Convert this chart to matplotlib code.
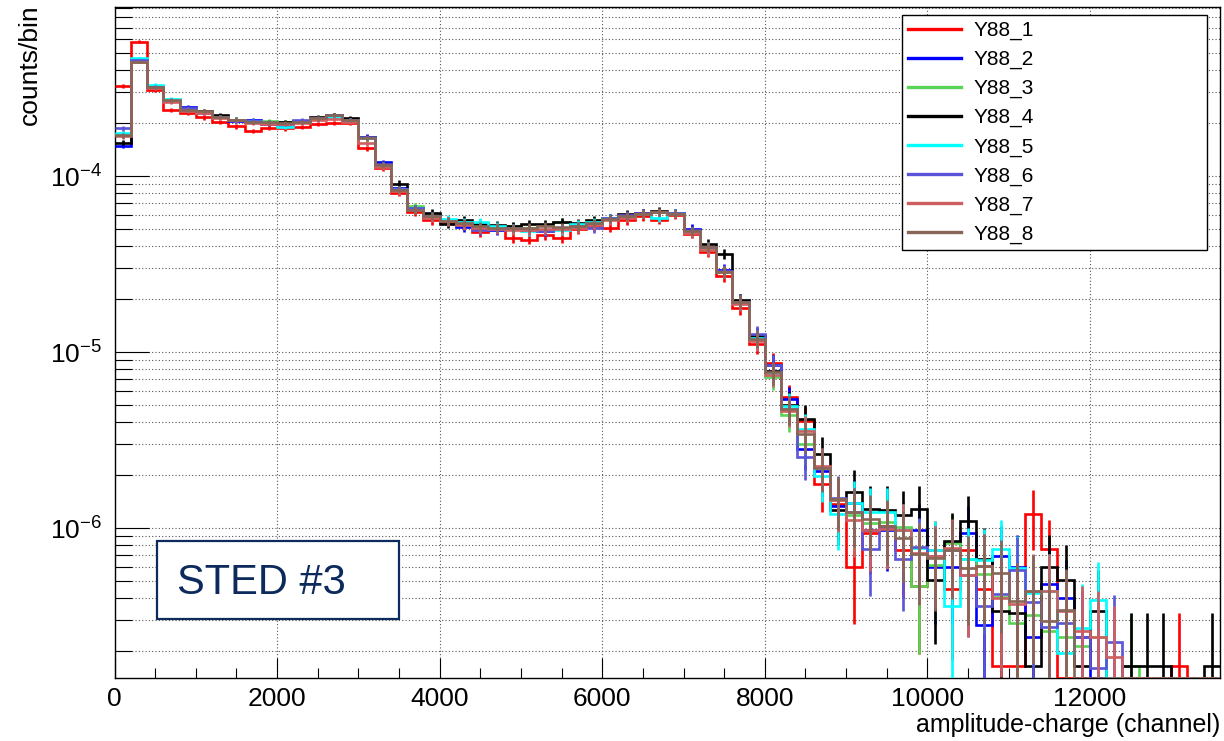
import numpy as np
import matplotlib.pyplot as plt
from matplotlib.lines import Line2D
from matplotlib.patches import Rectangle
from matplotlib.ticker import MultipleLocator, LogLocator, NullFormatter

plt.rcParams['font.family'] = ['Liberation Sans', 'DejaVu Sans']
plt.rcParams['mathtext.fontset'] = 'custom'
plt.rcParams['mathtext.rm'] = 'Liberation Sans'
plt.rcParams['mathtext.it'] = 'Liberation Sans:italic'
plt.rcParams['mathtext.bf'] = 'Liberation Sans:bold'

# histogram binning (channels)
bin_width = 200
n_bins = 68
# normalised content of a single count, used for the Poisson error bars
count_unit = 1.65e-7

# counts/bin for each channel
y88_1 = [3.26e-4, 5.83e-4, 3.09e-4, 2.38e-4, 2.28e-4, 2.16e-4, 2.04e-4, 1.92e-4, 1.81e-4, 1.89e-4,
         1.87e-4, 1.91e-4, 1.98e-4, 2.00e-4, 2.01e-4, 1.44e-4, 1.11e-4, 8.05e-5, 6.26e-5, 5.62e-5,
         5.48e-5, 5.26e-5, 4.82e-5, 4.99e-5, 4.47e-5, 4.36e-5, 4.61e-5, 4.47e-5, 4.99e-5, 5.19e-5,
         5.10e-5, 5.62e-5, 5.91e-5, 5.67e-5, 6.00e-5, 4.71e-5, 3.71e-5, 2.72e-5, 1.79e-5, 1.11e-5,
         8.68e-6, 5.58e-6, 4.07e-6, 1.78e-6, 1.37e-6, 6.0e-7, 9.4e-7, 1.03e-6, 7.5e-7, 4.7e-7,
         7.5e-7, 4.5e-7, 7.5e-7, 4.5e-7, 1.65e-7, 1.65e-7, 1.2e-6, 7.6e-7, 0, 0,
         0, 0, 0, 0, 0, 1.65e-7, 0, 0]
y88_2 = [1.49e-4, 4.55e-4, 3.21e-4, 2.68e-4, 2.48e-4, 2.31e-4, 2.17e-4, 2.06e-4, 2.08e-4, 1.98e-4,
         1.93e-4, 2.06e-4, 2.14e-4, 2.23e-4, 2.085e-4, 1.675e-4, 1.20e-4, 8.54e-5, 6.57e-5, 5.92e-5,
         5.61e-5, 5.14e-5, 5.06e-5, 4.93e-5, 5.07e-5, 5.00e-5, 4.86e-5, 5.07e-5, 5.19e-5, 5.33e-5,
         5.76e-5, 5.99e-5, 6.15e-5, 6.23e-5, 6.15e-5, 5.04e-5, 3.95e-5, 2.94e-5, 1.96e-5, 1.23e-5,
         8.4e-6, 5.42e-6, 2.81e-6, 2.12e-6, 1.33e-6, 1.39e-6, 9.7e-7, 9.7e-7, 9.7e-7, 9.7e-7,
         6.0e-7, 6.0e-7, 9.4e-7, 2.8e-7, 6.9e-7, 6.0e-7, 2.4e-7, 4.8e-7, 4.0e-7, 2.4e-7,
         0, 0, 0, 0, 0, 0, 0, 0]
y88_3 = [1.74e-4, 4.55e-4, 3.21e-4, 2.71e-4, 2.38e-4, 2.31e-4, 2.17e-4, 2.08e-4, 2.03e-4, 2.06e-4,
         2.03e-4, 2.06e-4, 2.14e-4, 2.23e-4, 2.085e-4, 1.64e-4, 1.155e-4, 8.43e-5, 6.75e-5, 5.99e-5,
         5.61e-5, 5.47e-5, 5.19e-5, 5.12e-5, 5.19e-5, 5.07e-5, 5.25e-5, 5.49e-5, 5.25e-5, 5.47e-5,
         5.76e-5, 5.92e-5, 6.15e-5, 6.23e-5, 6.15e-5, 4.86e-5, 3.89e-5, 2.84e-5, 1.91e-5, 1.18e-5,
         7.18e-6, 4.38e-6, 3.00e-6, 2.20e-6, 1.44e-6, 1.19e-6, 1.07e-6, 1.09e-6, 1.01e-6, 4.7e-7,
         6.2e-7, 8.2e-7, 6.7e-7, 5.5e-7, 4.05e-7, 2.9e-7, 3.2e-7, 2.6e-7, 2.4e-7, 2.15e-7,
         2.4e-7, 0, 1.65e-7, 0, 0, 0, 0, 0]
y88_4 = [1.55e-4, 4.58e-4, 3.20e-4, 2.71e-4, 2.38e-4, 2.34e-4, 2.23e-4, 2.10e-4, 2.03e-4, 2.02e-4,
         2.03e-4, 2.06e-4, 2.17e-4, 2.23e-4, 2.15e-4, 1.67e-4, 1.17e-4, 9.09e-5, 6.57e-5, 6.19e-5,
         5.37e-5, 5.67e-5, 5.33e-5, 5.25e-5, 5.19e-5, 5.33e-5, 5.37e-5, 5.47e-5, 5.42e-5, 5.62e-5,
         5.78e-5, 6.07e-5, 6.15e-5, 6.32e-5, 6.18e-5, 4.93e-5, 4.14e-5, 3.62e-5, 1.97e-5, 1.23e-5,
         7.85e-6, 5.00e-6, 4.17e-6, 2.63e-6, 1.26e-6, 1.61e-6, 1.28e-6, 1.27e-6, 1.19e-6, 1.28e-6,
         5.1e-7, 8.5e-7, 1.1e-6, 6.7e-7, 3.4e-7, 3.3e-7, 1.65e-7, 6.0e-7, 5.1e-7, 1.65e-7,
         3.4e-7, 0, 1.65e-7, 1.65e-7, 1.65e-7, 0, 0, 1.65e-7]
y88_5 = [1.76e-4, 4.69e-4, 3.30e-4, 2.75e-4, 2.41e-4, 2.31e-4, 2.17e-4, 2.10e-4, 2.06e-4, 2.02e-4,
         1.91e-4, 2.03e-4, 2.11e-4, 2.17e-4, 2.085e-4, 1.64e-4, 1.155e-4, 8.43e-5, 6.57e-5, 5.92e-5,
         5.74e-5, 5.47e-5, 5.49e-5, 5.19e-5, 5.07e-5, 4.86e-5, 4.92e-5, 4.92e-5, 5.33e-5, 5.47e-5,
         5.76e-5, 5.84e-5, 6.07e-5, 5.81e-5, 6.15e-5, 4.86e-5, 3.95e-5, 2.87e-5, 1.94e-5, 1.21e-5,
         7.57e-6, 4.95e-6, 3.66e-6, 1.98e-6, 1.20e-6, 1.38e-6, 1.24e-6, 1.24e-6, 9.7e-7, 7.7e-7,
         7.5e-7, 3.6e-7, 6.7e-7, 6.6e-7, 7.6e-7, 5.9e-7, 4.3e-7, 4.4e-7, 1.95e-7, 2.7e-7,
         3.9e-7, 0, 0, 0, 0, 0, 0, 0]
y88_6 = [1.87e-4, 4.55e-4, 3.21e-4, 2.68e-4, 2.44e-4, 2.29e-4, 2.17e-4, 2.08e-4, 2.06e-4, 2.00e-4,
         1.98e-4, 2.08e-4, 2.14e-4, 2.23e-4, 2.085e-4, 1.67e-4, 1.17e-4, 8.43e-5, 6.57e-5, 5.92e-5,
         5.54e-5, 5.33e-5, 4.93e-5, 5.00e-5, 5.07e-5, 4.93e-5, 4.86e-5, 5.07e-5, 5.19e-5, 5.07e-5,
         5.76e-5, 5.99e-5, 6.18e-5, 6.23e-5, 6.15e-5, 4.93e-5, 3.95e-5, 2.91e-5, 1.94e-5, 1.27e-5,
         8.4e-6, 4.77e-6, 2.52e-6, 2.23e-6, 1.49e-6, 1.24e-6, 7.65e-7, 1.0e-6, 6.7e-7, 7.8e-7,
         6.9e-7, 7.5e-7, 5.4e-7, 3.6e-7, 4.2e-7, 5.8e-7, 3.8e-7, 2.75e-7, 2.9e-7, 2.4e-7,
         1.6e-7, 2.25e-7, 0, 0, 0, 0, 0, 0]
y88_7 = [1.69e-4, 4.46e-4, 3.17e-4, 2.64e-4, 2.34e-4, 2.29e-4, 2.14e-4, 2.08e-4, 2.00e-4, 1.98e-4,
         1.98e-4, 2.00e-4, 2.085e-4, 2.11e-4, 2.03e-4, 1.54e-4, 1.125e-4, 8.20e-5, 6.40e-5, 5.77e-5,
         5.54e-5, 5.26e-5, 5.07e-5, 5.00e-5, 4.93e-5, 4.93e-5, 5.00e-5, 5.00e-5, 5.07e-5, 5.26e-5,
         5.61e-5, 5.77e-5, 6.07e-5, 6.23e-5, 6.07e-5, 4.73e-5, 3.79e-5, 2.84e-5, 1.89e-5, 1.16e-5,
         7.44e-6, 4.64e-6, 3.57e-6, 2.25e-6, 1.44e-6, 1.11e-6, 9.7e-7, 9.9e-7, 9.7e-7, 7.2e-7,
         6.9e-7, 7.7e-7, 5.4e-7, 6.1e-7, 4.0e-7, 3.7e-7, 4.4e-7, 4.4e-7, 3.4e-7, 2.6e-7,
         2.4e-7, 1.86e-7, 0, 0, 0, 0, 0, 0]
y88_8 = [1.71e-4, 4.48e-4, 3.20e-4, 2.71e-4, 2.38e-4, 2.34e-4, 2.18e-4, 2.10e-4, 2.04e-4, 2.02e-4,
         2.00e-4, 2.04e-4, 2.13e-4, 2.23e-4, 2.085e-4, 1.64e-4, 1.155e-4, 8.40e-5, 6.46e-5, 5.92e-5,
         5.56e-5, 5.42e-5, 5.19e-5, 5.10e-5, 5.08e-5, 5.10e-5, 5.19e-5, 5.14e-5, 5.19e-5, 5.42e-5,
         5.74e-5, 5.92e-5, 6.13e-5, 6.26e-5, 6.13e-5, 4.86e-5, 3.96e-5, 2.87e-5, 1.94e-5, 1.19e-5,
         7.67e-6, 4.75e-6, 3.42e-6, 2.20e-6, 1.46e-6, 1.23e-6, 1.12e-6, 1.03e-6, 8.77e-7, 7.08e-7,
         6.72e-7, 7.46e-7, 5.94e-7, 6.07e-7, 5.56e-7, 3.83e-7, 4.37e-7, 2.95e-7, 3.44e-7, 0,
         0, 0, 0, 0, 0, 0, 0, 0]

names = ['Y88_1', 'Y88_2', 'Y88_3', 'Y88_4', 'Y88_5', 'Y88_6', 'Y88_7', 'Y88_8']
colors = ['#ff0000', '#0000ff', '#59d454', '#000000', '#00ffff', '#5954d8', '#cf5e61', '#876657']
series = [y88_1, y88_2, y88_3, y88_4, y88_5, y88_6, y88_7, y88_8]

ymin, ymax = 1.4e-7, 9.1e-4
edges = np.arange(n_bins + 1) * bin_width
centers = edges[:-1] + bin_width / 2

fig = plt.figure(figsize=(12.24, 7.41), dpi=100)
ax = fig.add_axes([0.0936, 0.0846, 0.9031, 0.9053])
ax.set_yscale('log', nonpositive='clip')

lw = 1.9
for i, (vals, col) in enumerate(zip(series, colors)):
    v = np.asarray(vals, dtype=float)
    z = 3 + 0.1 * i
    # empty bins sit on the bottom of the frame, like ROOT does on a log axis
    ax.stairs(np.clip(v, ymin, None), edges, baseline=None, color=col, lw=lw, zorder=z)
    filled = v > 0
    err = np.sqrt(v[filled] * count_unit)
    ax.errorbar(centers[filled], v[filled], yerr=err, fmt='none', ecolor=col,
                elinewidth=lw, capsize=0, zorder=z)

ax.set_xlim(0, n_bins * bin_width)
ax.set_ylim(ymin, ymax)

ax.xaxis.set_major_locator(MultipleLocator(2000))
ax.xaxis.set_minor_locator(MultipleLocator(500))
ax.yaxis.set_major_locator(LogLocator(base=10))
ax.yaxis.set_minor_locator(LogLocator(base=10, subs=np.arange(2, 10)))
ax.yaxis.set_minor_formatter(NullFormatter())

ax.tick_params(axis='y', which='major', direction='in', length=24.5, width=0.8,
               labelsize=19, pad=9, right=False)
ax.tick_params(axis='y', which='minor', direction='in', length=12, width=0.8, right=False)
ax.tick_params(axis='x', which='major', direction='in', length=14.4, width=0.8,
               labelsize=19, pad=6, top=False)
ax.tick_params(axis='x', which='minor', direction='in', length=7.2, width=0.8, top=False)

grid_style = dict(ls=(0, (1, 2)), color='#555555', lw=0.8)
ax.grid(True, which='major', axis='x', **grid_style)
ax.grid(True, which='both', axis='y', **grid_style)
ax.set_axisbelow(True)
for sp in ax.spines.values():
    sp.set_linewidth(1.0)

handles = [Line2D([], [], color=c, lw=2.4) for c in colors]
leg = ax.legend(handles, names, loc='upper left', bbox_to_anchor=(0.712, 0.989, 0.276, 0),
                mode='expand', borderaxespad=0, fancybox=False, framealpha=1,
                edgecolor='black', fontsize=15, borderpad=0.3, labelspacing=0.47,
                handlelength=2.55, handletextpad=0.6)
leg.get_frame().set_linewidth(1.0)

# run label box
ax.add_patch(Rectangle((0.0381, 0.0888), 0.2192, 0.1159, transform=ax.transAxes,
                       facecolor='white', edgecolor='#0d2a5c', lw=1.6, zorder=6))
ax.text(0.0562, 0.1257, 'STED #3', transform=ax.transAxes, fontsize=30,
        color='#0d2a5c', ha='left', va='baseline', zorder=7)

fig.text(30 / 1224, 1 - 4 / 741, 'counts/bin', rotation=90, ha='center', va='top', fontsize=19)
fig.text(1220 / 1224, 1 - 725 / 741, 'amplitude-charge (channel)', ha='right', va='center',
         fontsize=18)

fig.savefig('out.png', dpi=100)
